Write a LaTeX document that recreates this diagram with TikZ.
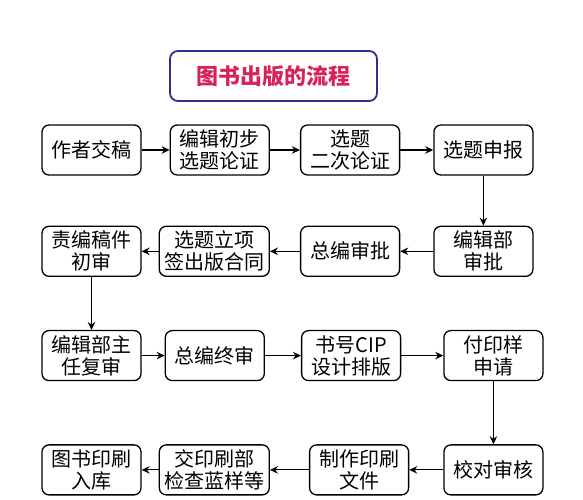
\documentclass[tikz,border=0pt]{standalone}
\usepackage{fontspec}
\setmainfont{Noto Sans CJK SC}
\usepackage{xcolor}
\usepackage{tikz}
\usetikzlibrary{shapes.geometric, arrows.meta, positioning}

\definecolor{titleblue}{RGB}{46,49,140}
\definecolor{titlered}{RGB}{214,36,88}

\begin{document}
\begin{tikzpicture}[node distance=30pt, auto]
    \tikzstyle{stepbox} = [rectangle, draw, line width=1.3pt, rounded corners=7pt, align=center, minimum width=99pt, minimum height=50pt, inner xsep=5pt, font=\fontsize{20}{22}\selectfont]
    \tikzstyle{headbox} = [rectangle, draw=titleblue, line width=1.8pt, rounded corners=8pt, minimum width=207pt, minimum height=50pt, text=titlered, font=\fontsize{22}{24}\selectfont\bfseries]
    \tikzstyle{link} = [draw, -{Stealth[length=8pt, width=7.5pt]}, line width=1.2pt]

    \useasboundingbox (0,0) rectangle (583pt,500pt);

    \node [headbox] (title) at (273.5pt,424pt) {图书出版的流程};

    % first row
    \node [stepbox] (a1) at (91.5pt,350pt) {作者交稿};
    \node [stepbox, right=28pt of a1] (a2) {编辑初步\\选题论证};
    \node [stepbox, right=30pt of a2] (a3) {选题\\二次论证};
    \node [stepbox, right=33pt of a3] (a4) {选题申报};

    % second row
    \node [stepbox, below=50pt of a1] (b1) {责编稿件\\初审};
    \node [stepbox, right=17pt of b1] (b2) {选题立项\\签出版合同};
    \node [stepbox, right=30pt of b2] (b3) {总编审批};
    \node [stepbox, right=33pt of b3] (b4) {编辑部\\审批};

    % third row
    \node [stepbox, below=53pt of b1] (c1) {编辑部主\\任复审};
    \node [stepbox, right=23pt of c1] (c2) {总编终审};
    \node [stepbox, right=36pt of c2] (c3) {书号CIP\\设计排版};
    \node [stepbox, right=42pt of c3] (c4) {付印样\\申请};

    % fourth row
    \node [stepbox, below=63pt of c1] (d1) {图书印刷\\入库};
    \node [stepbox, right=17pt of d1] (d2) {交印刷部\\检查蓝样等};
    \node [stepbox, right=39pt of d2] (d3) {制作印刷\\文件};
    \node [stepbox, right=34pt of d3] (d4) {校对审核};

    \path [link] (a1) -- (a2);
    \path [link] (a2) -- (a3);
    \path [link] (a3) -- (a4);
    \path [link] (a4) -- (b4);
    \path [link] (b4) -- (b3);
    \path [link] (b3) -- (b2);
    \path [link] (b2) -- (b1);
    \path [link] (b1) -- (c1);
    \path [link] (c1) -- (c2);
    \path [link] (c2) -- (c3);
    \path [link] (c3) -- (c4);
    \path [link] (c4) -- (d4);
    \path [link] (d4) -- (d3);
    \path [link] (d3) -- (d2);
    \path [link] (d2) -- (d1);
\end{tikzpicture}
\end{document}
